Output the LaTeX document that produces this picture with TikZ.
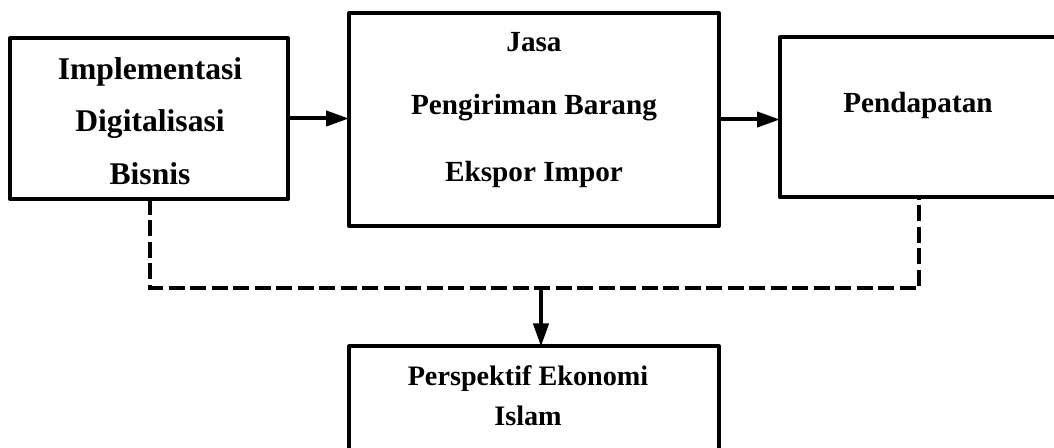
\documentclass[tikz,border=0pt]{standalone}
\usepackage{fontspec}
\setmainfont{Liberation Serif}
\usetikzlibrary{arrows.meta,calc}
\begin{document}
\begin{tikzpicture}[x=0.5pt,y=-0.5pt,
  box/.style={draw,line width=2pt,line join=round,inner sep=0pt,outer sep=0pt},
  lbl/.style={font=\bfseries\fontsize{14.6}{17}\selectfont,inner sep=0pt,anchor=base},
  biglbl/.style={lbl,font=\bfseries\fontsize{15.8}{18}\selectfont},
  smalllbl/.style={lbl,font=\bfseries\fontsize{14.1}{17}\selectfont},
  flow/.style={line width=2pt,-{Triangle[length=11.5pt,width=7.5pt]}},
  dashline/.style={line width=2pt,dash pattern=on 8pt off 2.75pt}]
\clip (0,0) rectangle (1054,448);
% boxes
\node[box,minimum width=139pt,minimum height=80.5pt] (b1) at (149,118.5) {};
\node[box,minimum width=185pt,minimum height=106.5pt] (b2) at (534,119.5) {};
\node[box,minimum width=138pt,minimum height=80pt] (b3) at (918,117.5) {};
\node[box,minimum width=185pt,minimum height=53pt] (b4) at (534,399.5) {};
% texts
\node[biglbl] (t1a) at (150,80) {Implementasi};
\node[biglbl] (t1b) at (150,132) {Digitalisasi};
\node[biglbl] (t1c) at (150,184.5) {Bisnis};
\node[lbl] (t2a) at (534,52) {Jasa};
\node[lbl] (t2b) at (534,115) {Pengiriman Barang};
\node[lbl] (t2c) at (534,182) {Ekspor Impor};
\node[lbl] (t3a) at (918,113) {Pendapatan};
\node[smalllbl] (t4a) at (528,385.5) {Perspektif Ekonomi};
\node[smalllbl] (t4b) at (528,425) {Islam};
% arrows
\draw[flow] (b1.east) -- (b2.west |- b1.east);
\draw[flow] (b2.east) -- (b3.west |- b2.east);
% dashed connector
\coordinate (cl) at (150,288);
\coordinate (cr) at (919,288);
\coordinate (cm) at (541,288);
\draw[dashline,line join=miter] (b1.south -| cl) -- (cl) -- (cr) -- (cr |- b3.south);
\draw[flow] (cm) -- (cm |- b4.north);
\end{tikzpicture}
\end{document}
